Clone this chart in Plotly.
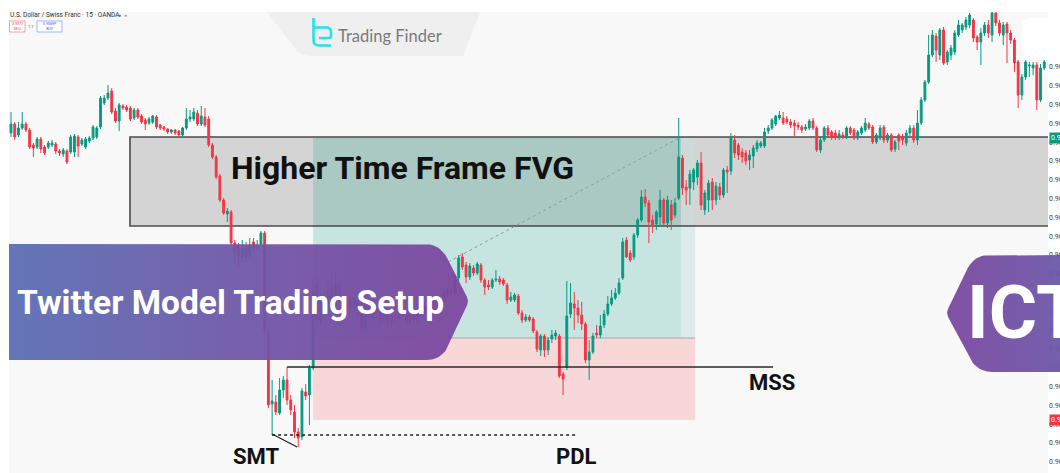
import math
import plotly.graph_objects as go

# ---------------- data (USD/CHF 15m, prices = PRICE_BASE + points * POINT) ----------------
PRICE_BASE = 0.90
POINT = 0.00001

opens_pts = [
    867,876,865,872,876,870,855,853,861,853,853,855,856,849,846,849,848,848,863,856,
    853,859,862,863,873,897,902,909,889,879,894,893,892,882,890,884,880,877,878,883,
    875,873,871,868,870,869,865,872,881,881,887,876,883,881,
    855,843,824,800,786,788,757,755,743,752,744,758,752,756,767,670,
    596,598,587,610,620,600,588,568,563,608,605,632,
    715,678,700,688,712,694,714,700,692,700,692,700,685,672,694,682,692,688,680,686,
    678,684,682,690,684,678,685,680,688,694,688,695,700,696,701,705,710,707,
    722,743,735,723,732,727,735,720,715,713,720,721,720,715,700,700,704,687,680,683,
    681,668,650,664,650,661,664,664,626,633,686,696,692,685,676,640,648,667,665,675,
    686,696,702,707,722,760,747,
    743,765,780,803,797,780,776,783,800,777,795,785,802,842,813,812,818,823,837,790,
    800,818,800,813,805,830,
    829,860,855,848,847,840,844,851,854,854,869,872,876,882,882,881,878,877,875,873,
    871,872,879,872,850,860,872,868,867,863,865,863,872,870,862,867,870,876,873,858,
    862,873,860,865,851,865,864,857,867,872,860,877,900,918,945,964,945,970,938,945,
    948,965,970,973,975,980,963,958,967,975,965,987,977,965,976,967,960,938,905,923,
    934,932,935,900,932,
]
highs_pts = [
    888,878,878,888,878,872,857,863,863,855,859,860,858,851,852,851,865,866,865,862,
    863,864,875,874,904,905,915,912,892,897,896,895,894,892,892,886,882,883,885,885,
    876,874,872,871,871,870,873,892,890,892,890,894,892,884,
    857,845,826,802,792,790,760,757,760,758,762,762,760,769,769,672,
    620,605,622,624,633,605,595,572,612,616,635,725,
    725,705,710,720,728,727,718,704,704,704,703,702,688,698,698,695,695,692,690,689,
    688,688,694,693,688,688,690,692,697,698,700,704,704,706,710,713,714,725,
    745,747,738,737,735,738,737,722,720,722,730,724,722,717,708,707,706,690,686,685,
    683,670,666,666,663,670,670,666,628,719,717,708,700,698,678,660,667,675,685,690,
    704,710,712,722,762,763,750,
    767,782,810,811,800,785,790,810,802,804,800,802,882,845,820,830,832,840,848,810,
    820,822,818,817,832,834,
    867,865,857,852,850,850,855,860,859,872,875,882,885,889,888,884,881,880,878,875,
    876,881,882,874,862,874,875,870,870,870,868,874,874,872,870,874,882,878,875,867,
    875,875,867,867,860,867,866,870,875,875,890,903,920,965,970,967,972,973,950,955,
    970,980,977,983,987,982,965,972,978,980,988,988,980,978,978,970,962,940,926,940,
    938,938,938,936,942,
]
lows_pts = [
    863,860,863,870,868,851,843,851,847,845,851,853,846,844,843,836,846,843,843,854,
    851,857,860,861,871,895,900,886,877,869,890,888,879,880,881,876,870,875,876,871,
    870,869,866,866,865,863,863,870,878,879,874,874,873,853,
    841,821,798,785,778,754,737,732,738,740,742,748,750,754,665,592,
    565,585,585,602,595,585,562,553,560,600,575,630,
    668,674,682,685,688,682,695,688,689,690,688,682,668,670,678,680,684,675,676,674,
    675,678,680,682,674,675,676,677,684,684,685,692,692,694,698,702,704,704,
    718,730,717,720,724,725,717,705,710,711,718,715,714,696,698,698,685,677,678,678,
    667,648,644,643,645,657,660,622,605,630,682,670,677,670,637,620,646,662,662,672,
    684,694,700,705,720,742,738,
    740,762,778,793,757,767,770,773,773,772,770,782,800,805,795,795,810,815,790,785,
    788,790,795,800,802,807,
    825,842,840,837,835,830,832,848,852,852,866,870,874,880,875,876,872,864,870,867,
    869,870,870,848,847,858,863,860,860,860,861,861,865,860,860,865,868,870,856,856,
    860,857,857,848,848,850,855,854,864,857,855,875,898,916,943,938,940,935,935,940,
    945,963,967,970,972,958,950,935,964,962,958,974,964,955,937,956,928,892,900,920,
    923,925,890,898,930,
]
closes_pts = [
    876,863,872,876,870,853,852,861,851,847,857,857,849,847,850,838,863,864,854,860,
    861,862,873,872,902,902,907,888,879,895,892,890,881,890,883,878,876,881,884,873,
    872,871,868,870,867,865,872,881,883,888,876,884,875,855,
    843,823,800,787,789,757,748,744,752,743,755,752,755,767,670,595,
    599,588,610,620,600,590,568,562,609,604,632,710,
    680,700,688,710,695,715,700,692,700,694,701,685,672,694,682,692,688,680,686,678,
    684,682,690,684,678,685,680,688,694,688,695,700,696,702,706,710,707,720,
    742,733,723,734,727,736,720,713,713,720,721,718,716,700,703,705,687,680,683,680,
    669,651,664,650,660,665,667,624,621,684,697,692,685,676,640,648,664,665,674,686,
    696,702,707,717,758,743,740,
    765,780,803,797,778,774,788,800,777,800,780,797,843,812,810,826,830,837,795,807,
    817,800,814,805,830,828,
    863,847,845,843,839,845,852,857,857,868,872,880,884,885,877,878,875,874,873,870,
    873,879,872,850,860,872,865,863,863,866,863,872,867,862,868,872,877,872,858,865,
    872,860,865,850,858,859,860,867,872,860,877,900,918,945,965,950,970,937,948,952,
    967,975,975,980,985,962,958,967,975,967,987,977,967,975,967,960,937,905,923,938,
    935,935,900,932,938,
]

# annotated levels (price) and bar positions (bar index)
FVG_TOP, FVG_BOTTOM, FVG_START = 0.90863, 0.90774, 31.9
TAKE_PROFIT, ENTRY, STOP_LOSS = 0.90863, 0.90662, 0.90580
POS_START, POS_END, POS_END_FADE = 81.0, 179.6, 183.4
MSS_LEVEL, MSS_START, MSS_END = 0.90633, 74.0, 204.3
PDL_LEVEL, PDL_START, PDL_END = 0.90565, 70.0, 152.0
SMT_FROM, SMT_TO = (70.0, 0.90566), (76.7, 0.90553)
RR_FROM, RR_TO = (117.2, 0.90738), (179.6, 0.90863)
LAST_PRICE, SL_TAG = "0.90863", "0.90580"

opens = [PRICE_BASE + v * POINT for v in opens_pts]
highs = [PRICE_BASE + v * POINT for v in highs_pts]
lows = [PRICE_BASE + v * POINT for v in lows_pts]
closes = [PRICE_BASE + v * POINT for v in closes_pts]
bars = list(range(len(opens)))

GREEN, RED = "#089981", "#f23645"
W, H = 1060, 473

fig = go.Figure()
fig.add_trace(go.Candlestick(
    x=bars, open=opens, high=highs, low=lows, close=closes,
    increasing=dict(line=dict(color=GREEN, width=1), fillcolor=GREEN),
    decreasing=dict(line=dict(color=RED, width=1), fillcolor=RED),
    whiskerwidth=0, showlegend=False, hoverinfo="skip", xaxis="x", yaxis="y"))


def rounded(verts, radii, steps=10):
    xs, ys = [], []
    n = len(verts)
    for k in range(n):
        px, py = verts[k]
        r = radii[k]
        if r == 0:
            xs.append(px); ys.append(py); continue
        ax, ay = verts[k - 1]
        bx, by = verts[(k + 1) % n]
        d1 = math.hypot(ax - px, ay - py)
        d2 = math.hypot(bx - px, by - py)
        sx, sy = px + (ax - px) / d1 * r, py + (ay - py) / d1 * r
        ex, ey = px + (bx - px) / d2 * r, py + (by - py) / d2 * r
        for j in range(steps + 1):
            t = j / steps
            xs.append((1 - t) ** 2 * sx + 2 * (1 - t) * t * px + t * t * ex)
            ys.append((1 - t) ** 2 * sy + 2 * (1 - t) * t * py + t * t * ey)
    xs.append(xs[0]); ys.append(ys[0])
    return xs, ys


# banners on a pixel-space overlay subplot
bx, by = rounded([(9, 244), (440, 244), (469, 301), (442, 360), (9, 360)], [0, 16, 5, 16, 0])
fig.add_trace(go.Scatter(
    x=bx, y=by, xaxis="x2", yaxis="y2", mode="lines", line=dict(width=0),
    fill="toself", fillgradient=dict(type="horizontal", colorscale=[
        [0, "rgba(90,110,180,0.94)"], [0.55, "rgba(112,84,166,0.94)"], [1, "rgba(124,70,158,0.94)"]]),
    hoverinfo="skip", showlegend=False))
ix, iy = rounded([(1075, 255), (974, 255), (946, 313), (977, 372), (1075, 372)], [0, 16, 5, 16, 0])
fig.add_trace(go.Scatter(
    x=ix, y=iy, xaxis="x2", yaxis="y2", mode="lines", line=dict(width=0),
    fill="toself", fillgradient=dict(type="horizontal", colorscale=[
        [0, "rgba(124,72,160,0.95)"], [1, "rgba(106,90,170,0.95)"]]),
    hoverinfo="skip", showlegend=False))

shapes = [
    # chart background
    dict(type="rect", xref="x domain", yref="y domain", x0=0, x1=1, y0=0, y1=1,
         fillcolor="#f8f8f8", line_width=0, layer="below"),
    # higher time frame FVG
    dict(type="rect", xref="x", yref="y", x0=FVG_START, x1=400, y0=FVG_BOTTOM, y1=FVG_TOP,
         fillcolor="#d4d4d4", line_width=0, layer="below"),
    # long position: profit zone
    dict(type="rect", xref="x", yref="y", x0=POS_START, x1=POS_END, y0=ENTRY, y1=FVG_BOTTOM,
         fillcolor="#c6e4e0", line_width=0, layer="below"),
    dict(type="rect", xref="x", yref="y", x0=POS_START, x1=POS_END, y0=FVG_BOTTOM, y1=TAKE_PROFIT,
         fillcolor="#aac9c3", line_width=0, layer="below"),
    dict(type="rect", xref="x", yref="y", x0=POS_END, x1=POS_END_FADE, y0=ENTRY, y1=FVG_BOTTOM,
         fillcolor="#dcecea", line_width=0, layer="below"),
    dict(type="rect", xref="x", yref="y", x0=POS_END, x1=POS_END_FADE, y0=FVG_BOTTOM, y1=TAKE_PROFIT,
         fillcolor="#cddad8", line_width=0, layer="below"),
    # stop zone
    dict(type="rect", xref="x", yref="y", x0=POS_START, x1=POS_END_FADE, y0=STOP_LOSS, y1=ENTRY,
         fillcolor="#f8d7d9", line_width=0, layer="below"),
    dict(type="line", xref="x", yref="y", x0=POS_START, x1=POS_END_FADE, y0=ENTRY, y1=ENTRY,
         line=dict(color="#a8a8a8", width=1), layer="below"),
    # FVG border
    dict(type="rect", xref="x", yref="y", x0=FVG_START, x1=400, y0=FVG_BOTTOM, y1=FVG_TOP,
         fillcolor="rgba(0,0,0,0)", line=dict(color="#4a4a4a", width=1.6), layer="below"),
    # MSS / PDL / SMT / RR
    dict(type="line", xref="x", yref="y", x0=MSS_START, x1=MSS_END, y0=MSS_LEVEL, y1=MSS_LEVEL,
         line=dict(color="#2a2a2a", width=1.5)),
    dict(type="line", xref="x", yref="y", x0=PDL_START, x1=PDL_END, y0=PDL_LEVEL, y1=PDL_LEVEL,
         line=dict(color="#222", width=1.4, dash="dot")),
    dict(type="line", xref="x", yref="y", x0=SMT_FROM[0], x1=SMT_TO[0], y0=SMT_FROM[1], y1=SMT_TO[1],
         line=dict(color="#222", width=1.3)),
    dict(type="line", xref="x", yref="y", x0=RR_FROM[0], x1=RR_TO[0], y0=RR_FROM[1], y1=RR_TO[1],
         line=dict(color="#8f9a98", width=1, dash="dot"), layer="below"),
    # logo plate
    dict(type="path", xref="x2", yref="y2",
         path="M 267 12 L 480 12 L 463 56 L 312 56 Q 300 56 294 47 Z",
         fillcolor="#efefef", line_width=0, layer="below"),
    # logo glyph
    dict(type="path", xref="x2", yref="y2",
         path="M 313.5 18 L 313.5 40 Q 313.5 45.5 319 45.5 L 331 45.5",
         line=dict(color="#22e3ea", width=2.6)),
    dict(type="path", xref="x2", yref="y2",
         path="M 313.5 27.5 L 326 27.5 Q 331 27.5 331 32 L 331 36 Q 331 38 329 38 L 319 38",
         line=dict(color="#22e3ea", width=2.6)),
    # right white card
    dict(type="path", xref="x2", yref="y2",
         path="M 1030 18 L 1060 18 L 1060 60 L 1030 60 Q 1022 60 1022 52 L 1022 26 Q 1022 18 1030 18 Z",
         fillcolor="#ffffff", line_width=0, layer="below"),
    # top-left order buttons
    dict(type="rect", xref="x2", yref="y2", x0=9.5, x1=25, y0=21, y1=32,
         fillcolor="#ffffff", line=dict(color="#f08a93", width=0.8), layer="below"),
    dict(type="rect", xref="x2", yref="y2", x0=37, x1=62, y0=21, y1=32,
         fillcolor="#ffffff", line=dict(color="#8aa4f0", width=0.8), layer="below"),
]


def txt(text, x, y, size, color="#111", xanchor="left", bold=True, family="Roboto", **kw):
    return dict(text=f"<b>{text}</b>" if bold else text, x=x, y=y, xref="x2", yref="y2",
                xanchor=xanchor, yanchor="middle", showarrow=False,
                font=dict(family=family, size=size, color=color), **kw)


annotations = [
    txt("Higher Time Frame FVG", 229, 168, 32),
    txt("Twitter Model Trading Setup", 15, 302, 33.5, color="#ffffff"),
    txt("MSS", 747, 382, 22),
    txt("PDL", 554, 456, 22),
    txt("SMT", 231, 456, 22),
    txt("ICT", 965, 312, 74, color="#ffffff"),
    txt("Trading Finder", 336, 36, 16.5, color="#7a7a7a", bold=False, family="Lato"),
    txt("U.S. Dollar / Swiss Franc · 15 · OANDA", 8, 14.5, 6.5, color="#333", bold=False,
        family="Roboto"),
    txt("●", 116, 14.5, 5, color=GREEN, bold=False),
    txt("●", 122, 14.5, 5, color="#f07a90", bold=False),
    txt("0.9072<br>SELL", 17.3, 26.5, 3.6, color=RED, xanchor="center", bold=False),
    txt("1.7", 30.5, 26.5, 4, color="#555", xanchor="center", bold=False),
    txt("0.9089P<br>BUY", 49.5, 26.5, 3.6, color="#2962ff", xanchor="center", bold=False),
    txt(LAST_PRICE, 1049, 137.5, 7, color="#ffffff", bold=False, bgcolor=GREEN, borderpad=1),
    txt(SL_TAG, 1049, 420, 7, color="#ffffff", bold=False, bgcolor=RED, borderpad=1),
]

fig.update_layout(
    width=W, height=H, margin=dict(l=0, r=0, t=0, b=0),
    paper_bgcolor="#ffffff", plot_bgcolor="rgba(0,0,0,0)",
    showlegend=False, boxgap=0.3,
    xaxis=dict(domain=[9 / W, 1048 / W], range=[-0.536, 278.0], visible=False,
               rangeslider=dict(visible=False), fixedrange=True),
    yaxis=dict(domain=[0, (H - 12) / H], range=[0.90527, 0.90988], side="right",
               showgrid=False, zeroline=False, showline=False, ticks="",
               tick0=0.90933, dtick=0.000188, tickformat=".4f", automargin=False,
               tickfont=dict(size=7, color="#444", family="Roboto"), fixedrange=True),
    xaxis2=dict(domain=[0, 1], range=[0, W], anchor="y2", visible=False, fixedrange=True),
    yaxis2=dict(domain=[0, 1], range=[H, 0], anchor="x2", visible=False, fixedrange=True),
    shapes=shapes, annotations=annotations,
)

fig.write_html("out.html", config={"displayModeBar": False},
               post_script="document.body.style.margin='0';")
